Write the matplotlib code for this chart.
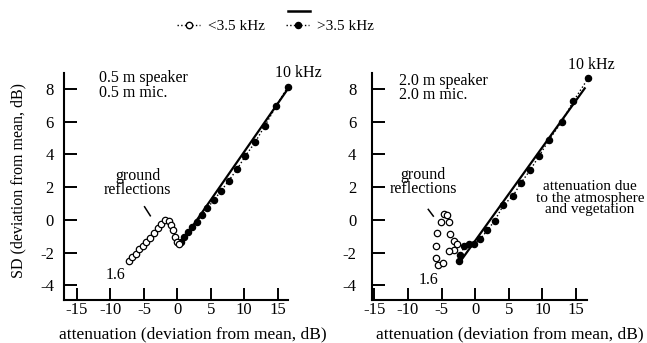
"""
SD vs attenuation for two speaker/microphone heights.

Two panels: 0.5 m and 2.0 m heights. Open circles are frequencies below
3.5 kHz (ground reflections), filled circles are above 3.5 kHz, with a
straight line for attenuation due to atmosphere and vegetation.
"""

import matplotlib

matplotlib.use('Agg')

import matplotlib.pyplot as plt
from matplotlib.lines import Line2D

# Left panel: 0.5 m speaker, 0.5 m mic
low_05_x = [-7.28, -6.79, -6.24, -5.74, -5.15, -4.65, -4.15, -3.55, -2.96,
            -2.46, -1.91, -1.27, -0.91, -0.67, -0.42, -0.07, 0.22]
low_05_y = [-2.51, -2.26, -2.06, -1.81, -1.57, -1.34, -1.10, -0.83, -0.52,
            -0.28, -0.01, -0.05, -0.32, -0.63, -1.03, -1.34, -1.48]
high_05_x = [0.48, 0.93, 1.57, 2.22, 2.91, 3.71, 4.46, 5.45, 6.55, 7.69,
             8.94, 10.18, 11.67, 13.11, 14.76, 16.5]
high_05_y = [-1.34, -1.04, -0.73, -0.42, -0.12, 0.29, 0.70, 1.21, 1.77, 2.40,
             3.10, 3.91, 4.77, 5.77, 6.94, 8.13]
fit_05_x = [0.3, 16.6]
fit_05_y = [-1.55, 8.05]

# Right panel: 2.0 m speaker, 2.0 m mic
low_20_x = [-5.5, -5.9, -5.8, -5.7, -5.15, -4.7, -4.2, -3.85, -3.7, -3.2,
            -2.75, -3.1, -3.85, -4.8]
low_20_y = [-2.75, -2.35, -1.62, -0.83, -0.10, 0.33, 0.30, -0.15, -0.85,
            -1.30, -1.45, -1.85, -1.93, -2.65]
high_20_x = [-2.4, -2.2, -1.6, -0.9, -0.2, 0.7, 1.8, 2.9, 4.2, 5.6, 6.8,
             8.2, 9.5, 11.0, 12.9, 14.6, 16.8]
high_20_y = [-2.5, -2.15, -1.6, -1.45, -1.5, -1.2, -0.65, -0.05, 0.9, 1.45,
             2.25, 3.05, 3.9, 4.9, 6.0, 7.25, 8.65]
fit_20_x = [-2.4, 16.4]
fit_20_y = [-2.65, 8.1]

x_ticks = [-15, -10, -5, 0, 5, 10, 15]
y_ticks = [-4, -2, 0, 2, 4, 6, 8]

FONT = 'Liberation Serif'
FS = 11.5        # annotations
FS_TICK = 12
FS_LABEL = 12.5


def style_axes(ax, xlim, ylab_pad, xlabel_x):
    """Only left/bottom spines, long inward ticks, serif labels."""
    ax.set_xlim(*xlim)
    ax.set_ylim(-4.9, 9.0)
    for side in ('top', 'right'):
        ax.spines[side].set_visible(False)
    for side in ('left', 'bottom'):
        ax.spines[side].set_linewidth(1.5)
    ax.set_xticks(x_ticks)
    ax.set_yticks(y_ticks)
    ax.tick_params(direction='in', length=9, width=1.4, labelsize=FS_TICK)
    ax.tick_params(axis='y', pad=ylab_pad)
    ax.tick_params(axis='x', pad=1.5)
    ax.set_xlabel('attenuation (deviation from mean, dB)', fontsize=FS_LABEL)
    ax.xaxis.set_label_coords(xlabel_x, -0.117)


def draw_panel(ax, lo_x, lo_y, hi_x, hi_y, fit_x, fit_y):
    """Scatter of both frequency ranges and the fitted line."""
    ax.plot(fit_x, fit_y, color='black', lw=1.6, solid_capstyle='butt',
            zorder=2)
    ax.plot(hi_x, hi_y, ls=':', lw=1.0, color='black', marker='o',
            ms=4.4, mfc='black', mec='black', zorder=3, clip_on=False)
    ax.plot(lo_x, lo_y, ls='none', marker='o', ms=4.6, mfc='white',
            mec='black', mew=0.9, zorder=4, clip_on=False)


def main():
    plt.rcParams['font.family'] = [FONT, 'DejaVu Serif']
    plt.rcParams['axes.unicode_minus'] = False
    fig = plt.figure(figsize=(6.47, 3.43), dpi=100)

    ax1 = fig.add_axes([0.0994, 0.1254, 0.3452, 0.6626])
    ax2 = fig.add_axes([0.5745, 0.1254, 0.3323, 0.6626])

    style_axes(ax1, (-16.9, 16.5), 7.5, 0.577)
    style_axes(ax2, (-15.4, 16.6), 11, 0.643)
    ax1.set_ylabel('SD (deviation from mean, dB)', fontsize=11.5)
    ax1.yaxis.set_label_coords(-0.17, 0.524)

    draw_panel(ax1, low_05_x, low_05_y, high_05_x, high_05_y,
               fit_05_x, fit_05_y)
    draw_panel(ax2, low_20_x, low_20_y, high_20_x, high_20_y,
               fit_20_x, fit_20_y)

    # annotations, left
    ax1.text(-11.7, 8.22, '0.5 m speaker\n0.5 m mic.', fontsize=FS,
             va='center', linespacing=0.85)
    ax1.text(18.1, 9.0, '10 kHz', fontsize=FS, ha='center', va='center',
             clip_on=False)
    ax1.text(-9.3, -3.4, '1.6', fontsize=FS, ha='center', va='center')
    ax1.text(-5.9, 2.24, 'ground\nreflections', fontsize=FS, ha='center',
             va='center', linespacing=0.85)
    ax1.plot([-4.9, -4.04], [0.8, 0.25], color='black', lw=1.1)

    # annotations, right
    ax2.text(-11.4, 8.06, '2.0 m speaker\n2.0 m mic.', fontsize=FS,
             va='center', linespacing=0.85)
    ax2.text(17.3, 9.5, '10 kHz', fontsize=FS, ha='center', va='center',
             clip_on=False)
    ax2.text(-7.0, -3.69, '1.6', fontsize=FS, ha='center', va='center')
    ax2.text(-7.7, 2.34, 'ground\nreflections', fontsize=FS, ha='center',
             va='center', linespacing=0.85)
    ax2.plot([-6.98, -6.23], [0.64, 0.23], color='black', lw=1.1)
    ax2.text(17.1, 1.33, 'attenuation due\nto the atmosphere\nand vegetation',
             fontsize=11, ha='center', va='center', linespacing=0.85,
             clip_on=False)

    # legend at the top
    low_handle = Line2D([], [], ls=':', lw=1.0, color='black', marker='o',
                        ms=4.6, mfc='white', mec='black')
    high_handle = Line2D([], [], ls=':', lw=1.0, color='black', marker='o',
                         ms=4.4, mfc='black', mec='black')
    fig.legend([low_handle, high_handle], ['<3.5 kHz', '>3.5 kHz'],
               loc='center', bbox_to_anchor=(0.426, 0.924), ncol=2,
               frameon=False, fontsize=11, handlelength=1.5,
               handletextpad=0.5, columnspacing=1.4, borderpad=0)
    fig.add_artist(Line2D([0.445, 0.479], [0.968, 0.968], color='black',
                          lw=1.8, transform=fig.transFigure))

    fig.savefig('out.png', dpi=100)
    plt.close(fig)


if __name__ == '__main__':
    main()
